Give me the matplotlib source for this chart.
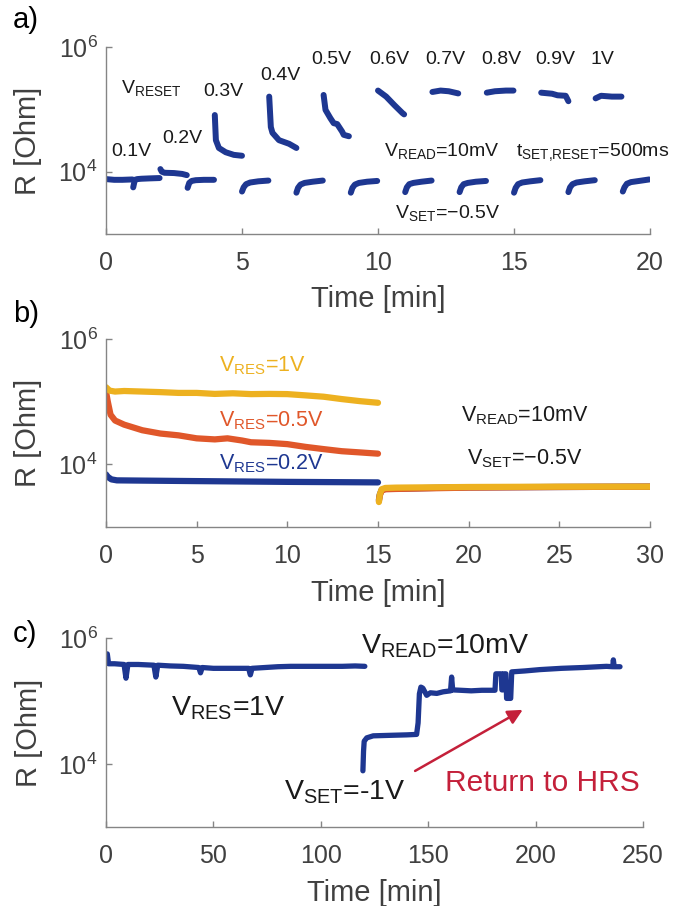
import matplotlib
matplotlib.use("Agg")
import matplotlib.pyplot as plt
import numpy as np

plt.rcParams['font.family'] = ['Liberation Sans', 'DejaVu Sans']
plt.rcParams['mathtext.fontset'] = 'custom'
plt.rcParams['mathtext.rm'] = 'Liberation Sans'
plt.rcParams['mathtext.it'] = 'Liberation Sans'
plt.rcParams['mathtext.bf'] = 'Liberation Sans:bold'

# ---------------- data ----------------
# a) alternating RESET (even minutes) / SET (odd minutes) pulses, 1 min each
reset_start = [0, 2, 4, 6, 8, 10, 12, 14, 16, 18]
reset_labels = ['0.1V', '0.2V', '0.3V', '0.4V', '0.5V', '0.6V', '0.7V', '0.8V', '0.9V', '1V']
reset_dt = [
    [0.0, 0.3, 0.6, 0.97],
    [0.0, 0.05, 0.15, 0.5, 0.8, 0.97],
    [0.0, 0.04, 0.15, 0.4, 0.7, 1.0],
    [0.0, 0.06, 0.12, 0.36, 0.73, 1.0],
    [0.0, 0.07, 0.25, 0.37, 0.5, 0.68, 0.74, 0.93],
    [0.0, 0.3, 0.6, 0.9, 0.96],
    [0.0, 0.3, 0.6, 0.95],
    [0.0, 0.3, 0.7, 0.98],
    [0.0, 0.4, 0.6, 0.9, 1.0],
    [0.0, 0.2, 0.6, 0.95],
]
reset_r = [
    [7.6e3, 7.4e3, 7.4e3, 7.5e3],
    [1.1e4, 1.0e4, 9.6e3, 9.5e3, 9.2e3, 8.8e3],
    [8.1e4, 3.2e4, 2.4e4, 2.05e4, 1.86e4, 1.8e4],
    [1.6e5, 5.2e4, 4.2e4, 3.2e4, 2.8e4, 2.4e4],
    [1.7e5, 9.8e4, 7.2e4, 6.0e4, 5.8e4, 4.4e4, 3.9e4, 3.7e4],
    [2.0e5, 1.6e5, 1.17e5, 8.7e4, 8.3e4],
    [1.9e5, 2.0e5, 1.95e5, 1.8e5],
    [1.85e5, 1.95e5, 2.0e5, 2.0e5],
    [1.85e5, 1.78e5, 1.68e5, 1.65e5, 1.35e5],
    [1.5e5, 1.65e5, 1.6e5, 1.6e5],
]
set_start = [1, 3, 5, 7, 9, 11, 13, 15, 17, 19]
set_dt = [0.0, 0.06, 0.15, 0.3, 0.6, 0.97]
set_r = [
    [5.6e3, 7.4e3, 7.6e3, 7.7e3, 7.8e3, 7.9e3],
    [5.5e3, 6.6e3, 7.1e3, 7.3e3, 7.4e3, 7.4e3],
    [4.8e3, 5.6e3, 6.3e3, 6.7e3, 7.0e3, 7.2e3],
    [4.6e3, 5.5e3, 6.2e3, 6.6e3, 6.9e3, 7.2e3],
    [4.6e3, 5.5e3, 6.2e3, 6.6e3, 6.9e3, 7.1e3],
    [4.7e3, 5.6e3, 6.3e3, 6.6e3, 6.9e3, 7.2e3],
    [4.7e3, 5.6e3, 6.3e3, 6.6e3, 6.9e3, 7.1e3],
    [4.6e3, 5.5e3, 6.3e3, 6.7e3, 7.0e3, 7.3e3],
    [4.7e3, 5.6e3, 6.3e3, 6.7e3, 7.0e3, 7.3e3],
    [4.8e3, 5.6e3, 6.4e3, 6.8e3, 7.1e3, 7.5e3],
]

# b) 15 min retention after RESET, then 15 min after SET
t_res1 = [0, 0.2, 0.5, 1, 2, 3, 4, 5, 6, 7, 8, 9, 10, 11, 12, 13, 14, 15]
r_res1 = [1.7e5, 1.5e5, 1.45e5, 1.48e5, 1.45e5, 1.42e5, 1.38e5, 1.38e5, 1.33e5,
          1.36e5, 1.32e5, 1.33e5, 1.32e5, 1.26e5, 1.2e5, 1.1e5, 1.02e5, 9.6e4]
t_res05 = [0, 0.1, 0.25, 0.5, 1, 2, 3, 4, 5, 6, 6.7, 7.5, 8, 9, 10, 11, 12, 13, 14, 15]
r_res05 = [1.45e5, 1.0e5, 6.2e4, 5.0e4, 4.3e4, 3.5e4, 3.1e4, 2.9e4, 2.6e4, 2.5e4,
           2.6e4, 2.4e4, 2.25e4, 2.2e4, 2.1e4, 1.9e4, 1.75e4, 1.62e4, 1.55e4, 1.48e4]
t_res02 = [0, 0.1, 0.3, 0.6, 2, 5, 10, 15]
r_res02 = [6.9e3, 6.3e3, 5.75e3, 5.55e3, 5.5e3, 5.4e3, 5.25e3, 5.15e3]
t_set_b = [15.05, 15.1, 15.2, 15.4, 16, 18, 20, 25, 30]
r_set_b02 = [2.7e3, 3.3e3, 3.9e3, 4.05e3, 4.1e3, 4.2e3, 4.3e3, 4.35e3, 4.4e3]
r_set_b05 = [2.6e3, 3.2e3, 3.8e3, 4.0e3, 4.05e3, 4.15e3, 4.25e3, 4.35e3, 4.4e3]
r_set_b1 = [2.5e3, 3.3e3, 4.0e3, 4.2e3, 4.25e3, 4.3e3, 4.35e3, 4.4e3, 4.4e3]

# c) long retention: HRS after 1 V reset, then SET at -1 V
t_hrs = [0, 0.6, 1.2, 4, 8.4, 9.3, 10.2, 15, 22.3, 23.2, 24.1, 30, 36, 43.2, 44,
         44.8, 50, 56, 62, 66.4, 67.2, 68, 74, 80, 86, 92, 98, 104, 110, 116, 120.5]
r_hrs = [4.0e5, 5.6e5, 3.9e5, 3.9e5, 3.8e5, 2.3e5, 3.8e5, 3.8e5, 3.7e5, 2.4e5,
         3.7e5, 3.6e5, 3.55e5, 3.4e5, 2.8e5, 3.4e5, 3.3e5, 3.3e5, 3.3e5, 3.3e5,
         2.6e5, 3.3e5, 3.4e5, 3.5e5, 3.55e5, 3.55e5, 3.55e5, 3.55e5, 3.55e5, 3.6e5, 3.55e5]
t_lrs = [119.6, 119.9, 120.2, 121.4, 124.4, 132, 140, 144.6, 145.3, 145.9, 146.6,
         147.5, 149.3, 151, 154, 157, 160.4, 160.9, 161.4, 165, 170, 175, 181.1,
         181.5, 184.0, 184.3, 184.8, 185.1, 186.2, 186.5, 188.4, 188.9, 195, 202,
         212, 222, 233, 235.9, 236.2, 236.6, 239.3]
r_lrs = [7.8e3, 1.6e4, 2.3e4, 2.6e4, 2.8e4, 2.85e4, 2.9e4, 2.95e4, 4.5e4, 1.3e5,
         1.66e5, 1.6e5, 1.23e5, 1.35e5, 1.32e5, 1.4e5, 1.45e5, 2.4e5, 1.5e5, 1.48e5,
         1.45e5, 1.48e5, 1.48e5, 2.7e5, 2.7e5, 1.5e5, 1.5e5, 2.7e5, 2.7e5, 1.1e5,
         1.1e5, 2.9e5, 3.0e5, 3.15e5, 3.3e5, 3.4e5, 3.55e5, 3.5e5, 4.5e5, 3.5e5, 3.5e5]

# ---------------- style ----------------
NAVY = '#1E3791'
YELLOW = '#EDB120'
ORANGE = '#E0572A'
RED = '#C4203A'
AXC = '#858585'
TXT = '#404040'
DARK = '#1a1a1a'

fig = plt.figure(figsize=(6.83, 9.06), dpi=100)
W, H = 683.0, 906.0


def make_axes(left, right, top, bottom):
    return fig.add_axes([left / W, 1 - bottom / H, (right - left) / W, (bottom - top) / H])


def style(ax, xmax, xticks):
    ax.set_yscale('log')
    ax.set_ylim(1e3, 1e6)
    ax.set_xlim(0, xmax)
    ax.set_xticks(xticks)
    ax.set_yticks([1e4, 1e6])
    ax.yaxis.set_minor_locator(matplotlib.ticker.NullLocator())
    for s in ('top', 'right'):
        ax.spines[s].set_visible(False)
    for s in ('left', 'bottom'):
        ax.spines[s].set_color(AXC)
        ax.spines[s].set_linewidth(1.0)
    ax.tick_params(axis='both', direction='in', length=4, width=1.0, color=AXC,
                   labelcolor=TXT, labelsize=18)
    ax.tick_params(axis='x', pad=12)
    ax.tick_params(axis='y', pad=6)
    ax.set_xlabel('Time [min]', fontsize=21, color=TXT)
    ax.set_ylabel('R [Ohm]', fontsize=21, color=TXT)
    ax.xaxis.set_label_coords(0.5, -0.275)
    ax.yaxis.set_label_coords(-0.118, 0.5)
    ax.patch.set_alpha(0)


def put(ax, x, logy, s, size, color=DARK):
    ax.text(x, 10 ** logy, s, fontsize=size, color=color, ha='left', va='baseline')


LW = dict(solid_capstyle='round', solid_joinstyle='round')

# ---------------- a) ----------------
axa = make_axes(106, 650, 47, 234)
style(axa, 20, [0, 5, 10, 15, 20])
for t0, dts, rs in zip(reset_start, reset_dt, reset_r):
    axa.plot([t0 + d for d in dts], rs, color=NAVY, lw=4.3, **LW)
for t0, rs in zip(set_start, set_r):
    axa.plot([t0 + d for d in set_dt], rs, color=NAVY, lw=4.3, **LW)

label_x = [0.21, 2.05, 3.57, 5.66, 7.54, 9.67, 11.73, 13.79, 15.77, 17.8]
label_y = [4.245, 4.46, 5.22, 5.47, 5.73, 5.73, 5.73, 5.73, 5.73, 5.73]
for lab, lx, ly in zip(reset_labels, label_x, label_y):
    put(axa, lx, ly, lab, 14)
put(axa, 0.55, 5.26, r'V$_{\mathregular{RESET}}$', 14)
put(axa, 10.22, 4.245, r'V$_{\mathregular{READ}}$=10mV', 14)
put(axa, 15.06, 4.245, r't$_{\mathregular{SET{,}RESET}}$=500ms', 14)
put(axa, 10.62, 3.26, r'V$_{\mathregular{SET}}$=$-$0.5V', 14)

# ---------------- b) ----------------
axb = make_axes(106, 650, 339, 527)
style(axb, 30, [0, 5, 10, 15, 20, 25, 30])
axb.plot(t_res02, r_res02, color=NAVY, lw=4.5, **LW)
axb.plot(t_res05, r_res05, color=ORANGE, lw=4.5, **LW)
axb.plot(t_res1, r_res1, color=YELLOW, lw=4.5, **LW)
axb.plot(t_set_b, r_set_b02, color=NAVY, lw=4.5, **LW)
axb.plot(t_set_b, r_set_b05, color=ORANGE, lw=4.5, **LW)
axb.plot(t_set_b, r_set_b1, color=YELLOW, lw=4.5, **LW)
put(axb, 6.21, 5.48, r'V$_{\mathregular{RES}}$=1V', 15.5, YELLOW)
put(axb, 6.21, 4.61, r'V$_{\mathregular{RES}}$=0.5V', 15.5, ORANGE)
put(axb, 6.21, 3.92, r'V$_{\mathregular{RES}}$=0.2V', 15.5, NAVY)
put(axb, 19.56, 4.69, r'V$_{\mathregular{READ}}$=10mV', 15.5)
put(axb, 19.93, 4.0, r'V$_{\mathregular{SET}}$=$-$0.5V', 15.5)

# ---------------- c) ----------------
axc = make_axes(106, 643, 638, 827)
style(axc, 250, [0, 50, 100, 150, 200, 250])
axc.plot(t_hrs, r_hrs, color=NAVY, lw=3.8, **LW)
axc.plot(t_lrs, r_lrs, color=NAVY, lw=3.8, **LW)
put(axc, 118.6, 5.76, r'V$_{\mathregular{READ}}$=10mV', 20.5)
put(axc, 30.4, 4.77, r'V$_{\mathregular{RES}}$=1V', 20.5)
put(axc, 83.0, 3.44, r'V$_{\mathregular{SET}}$=-1V', 20.5)
put(axc, 158.0, 3.57, 'Return to HRS', 21.5, RED)
axc.annotate('', xy=(194, 10 ** 4.86), xytext=(143.9, 10 ** 3.89),
             arrowprops=dict(arrowstyle='-|>', color=RED, lw=1.8, mutation_scale=22,
                             shrinkA=0, shrinkB=0))

# panel letters
for lab, yc in (('a)', 20), ('b)', 314), ('c)', 634)):
    fig.text(13 / W, 1 - yc / H, lab, fontsize=21, color='black', ha='left', va='center')

fig.savefig('out.png', dpi=100)
